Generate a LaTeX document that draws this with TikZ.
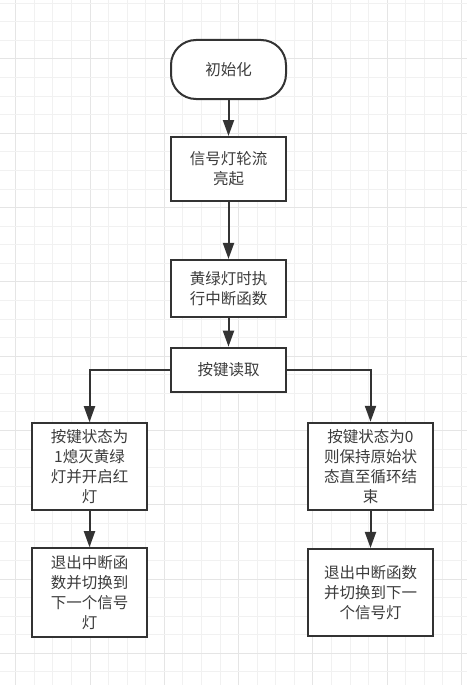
\documentclass[tikz,border=0pt]{standalone}
\usepackage{fontspec}
\newfontfamily\cjk{Noto Sans CJK SC}
\usetikzlibrary{arrows.meta}
\definecolor{ink}{RGB}{51,51,51}
\definecolor{txt}{RGB}{60,60,60}
\definecolor{gminor}{RGB}{241,241,241}
\definecolor{gmajor}{RGB}{229,229,229}
\tikzset{
  box/.style={draw=ink, line width=2pt, fill=white, rectangle, inner sep=0pt, align=center,
    text=txt, font=\cjk\fontsize{15.5}{20}\selectfont},
  term/.style={box, rounded corners=25pt},
  flow/.style={draw=ink, line width=2pt, -{Triangle[length=16pt,width=11pt]}},
}
\begin{document}
\begin{tikzpicture}[x=1pt,y=-1pt]
\useasboundingbox (0,0) rectangle (467,685);
\fill[white] (0,0) rectangle (467,685);
% grid
\foreach \i in {0,...,25} {
  \pgfmathsetmacro\gx{15.7+18.575*\i}
  \ifnum\i=0 \def\gc{gmajor}\else\pgfmathparse{mod(\i,4)==0?1:0}\ifnum\pgfmathresult=1 \def\gc{gmajor}\else\def\gc{gminor}\fi\fi
  \draw[\gc, line width=1pt] (\gx,0) -- (\gx,685);
}
\foreach \i in {0,...,36} {
  \pgfmathsetmacro\gy{3.275+18.575*\i}
  \pgfmathparse{mod(\i,4)==3?1:0}
  \ifnum\pgfmathresult=1 \def\gc{gmajor}\else\def\gc{gminor}\fi
  \draw[\gc, line width=1pt] (0,\gy) -- (467,\gy);
}
% nodes
\node[term, minimum width=115pt, minimum height=59pt] (start) at (228.5,69.5) {初始化};
\node[box, minimum width=115pt, minimum height=64pt] (n2) at (228.5,169) {信号灯轮流\\亮起};
\node[box, minimum width=115pt, minimum height=56.7pt] (n3) at (228.5,288.3) {黄绿灯时执\\行中断函数};
\node[box, minimum width=115pt, minimum height=44.6pt] (n4) at (228.5,370) {按键读取};
\node[box, minimum width=115pt, minimum height=87pt] (L1) at (89.5,466.7) {按键状态为\\1熄灭黄绿\\灯并开启红\\灯};
\node[box, minimum width=125pt, minimum height=87pt] (R1) at (370.5,466.3) {按键状态为0\\则保持原始状\\态直至循环结\\束};
\node[box, minimum width=115pt, minimum height=89pt] (L2) at (89.5,592.7) {退出中断函\\数并切换到\\下一个信号\\灯};
\node[box, minimum width=125pt, minimum height=86.7pt] (R2) at (370.5,592.3) {退出中断函数\\并切换到下一\\个信号灯};
% connectors
\draw[flow] (start) -- (n2);
\draw[flow] (n2) -- (n3);
\draw[flow] (n3) -- (n4);
\draw[flow] (n4.west) -| (L1.north);
\draw[flow] (n4.east) -| (R1.north);
\draw[flow] (L1) -- (L2);
\draw[flow] (R1) -- (R2);
\end{tikzpicture}
\end{document}
